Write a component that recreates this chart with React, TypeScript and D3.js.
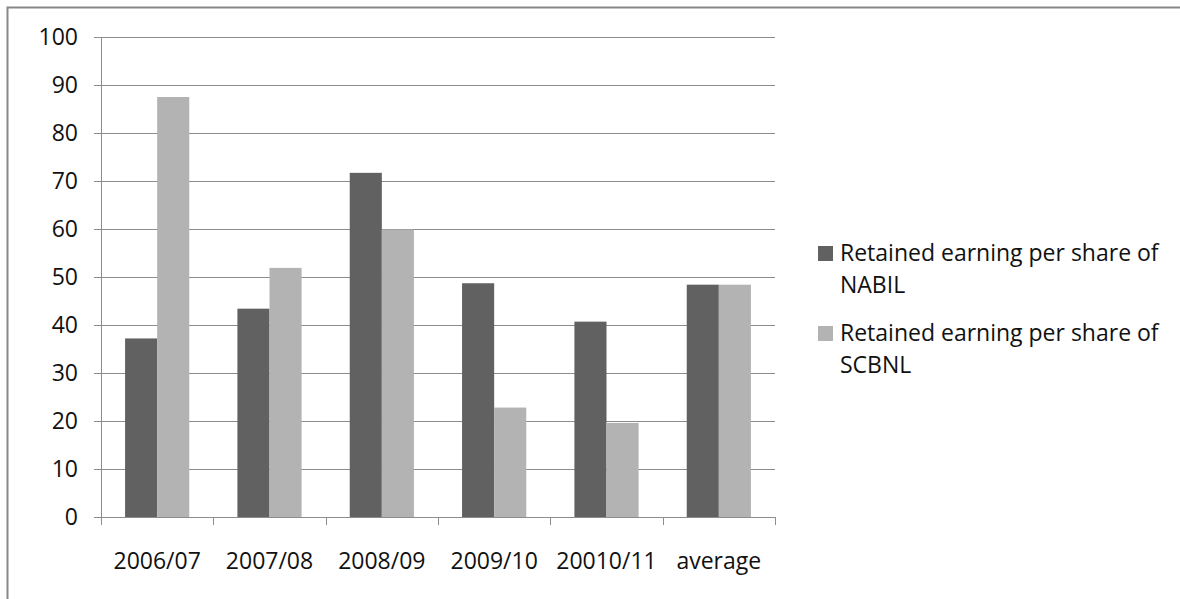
import React, { useEffect, useRef } from "react";
import * as d3 from "d3";

const categories = ["2006/07", "2007/08", "2008/09", "2009/10", "20010/11", "average"];
const nabil = [37.2, 43.4, 71.7, 48.7, 40.7, 48.4];
const scbnl = [87.5, 51.9, 59.9, 22.8, 19.6, 48.4];
const yTicks = [0, 10, 20, 30, 40, 50, 60, 70, 80, 90, 100];
const seriesNames = [
  ["Retained earning per share of", "NABIL"],
  ["Retained earning per share of", "SCBNL"],
];
const seriesColors = ["#616161", "#b3b3b3"];

const W = 1180;
const H = 599;
const FONT = "'Open Sans', 'Noto Sans', sans-serif";
const FS = 23;

export default function App() {
  const ref = useRef<SVGSVGElement>(null);

  useEffect(() => {
    const svg = d3.select(ref.current);
    svg.selectAll("*").remove();

    // outer chart frame (runs past the right and bottom edges)
    svg
      .append("rect")
      .attr("x", 7.5)
      .attr("y", 7.5)
      .attr("width", W + 20)
      .attr("height", H + 20)
      .attr("fill", "#fff")
      .attr("stroke", "#878787")
      .attr("stroke-width", 2);

    const left = 101;
    const right = 775;
    const top = 37;
    const bottom = 517;

    const x = d3.scaleBand<string>().domain(categories).range([left, right]).padding(0);
    const y = d3.scaleLinear().domain([0, 100]).range([bottom, top]);

    const g = svg.append("g");

    // horizontal gridlines with tick stubs
    g.selectAll("line.grid")
      .data(yTicks)
      .join("line")
      .attr("x1", left - 7)
      .attr("x2", right)
      .attr("y1", (d) => Math.round(y(d)) + 0.5)
      .attr("y2", (d) => Math.round(y(d)) + 0.5)
      .attr("stroke", "#8c8c8c")
      .attr("stroke-width", 1);

    // y axis line
    g.append("line")
      .attr("x1", left + 0.5)
      .attr("x2", left + 0.5)
      .attr("y1", top)
      .attr("y2", bottom)
      .attr("stroke", "#8c8c8c");

    // x tick marks at category boundaries
    const bounds = categories.map((c) => x(c)!).concat([right]);
    g.selectAll("line.xt")
      .data(bounds)
      .join("line")
      .attr("x1", (d) => Math.round(d) + 0.5)
      .attr("x2", (d) => Math.round(d) + 0.5)
      .attr("y1", bottom)
      .attr("y2", bottom + 8)
      .attr("stroke", "#8c8c8c");

    // y tick labels
    g.selectAll("text.yl")
      .data(yTicks)
      .join("text")
      .attr("x", 78)
      .attr("y", (d) => y(d))
      .attr("dy", "0.36em")
      .attr("text-anchor", "end")
      .attr("font-family", FONT)
      .attr("font-size", FS)
      .attr("fill", "#111")
      .text((d) => String(d));

    // x labels
    g.selectAll("text.xl")
      .data(categories)
      .join("text")
      .attr("x", (d) => x(d)! + x.bandwidth() / 2)
      .attr("y", 569)
      .attr("text-anchor", "middle")
      .attr("font-family", FONT)
      .attr("font-size", FS)
      .attr("fill", "#111")
      .text((d) => d);

    // bars: two series inside each category band
    const inner = d3
      .scaleBand<number>()
      .domain([0, 1])
      .range([0, x.bandwidth()])
      .paddingOuter(0.75)
      .paddingInner(0);

    [nabil, scbnl].forEach((vals, si) => {
      g.selectAll(`rect.s${si}`)
        .data(vals)
        .join("rect")
        .attr("x", (_, i) => x(categories[i])! + inner(si)!)
        .attr("width", inner.bandwidth())
        .attr("y", (d) => y(d))
        .attr("height", (d) => y(0) - y(d))
        .attr("fill", seriesColors[si]);
    });

    // legend
    const legendX = 818;
    const legendYs = [253, 333];
    seriesNames.forEach((lines, i) => {
      const ly = legendYs[i];
      svg
        .append("rect")
        .attr("x", legendX)
        .attr("y", ly - 7)
        .attr("width", 15)
        .attr("height", 15)
        .attr("fill", seriesColors[i]);
      const t = svg
        .append("text")
        .attr("font-family", FONT)
        .attr("font-size", FS)
        .attr("fill", "#111");
      lines.forEach((ln, j) => {
        t.append("tspan")
          .attr("x", legendX + 22)
          .attr("y", ly + 8 + j * 32)
          .text(ln);
      });
    });
  }, []);

  return (
    <svg
      ref={ref}
      width={W}
      height={H}
      style={{ position: "absolute", left: 0, top: 0, display: "block" }}
    />
  );
}
